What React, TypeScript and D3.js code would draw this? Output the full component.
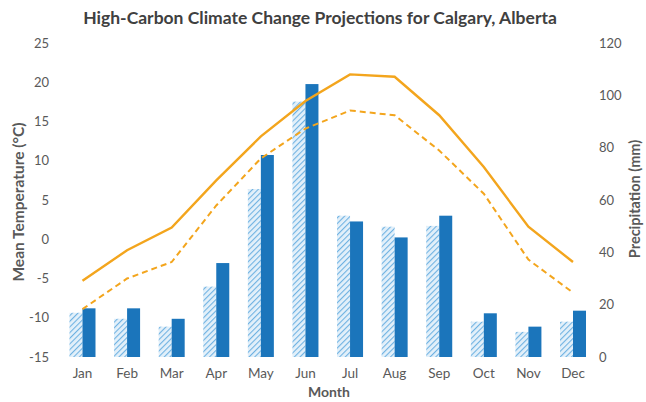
import React from "react";
import * as d3 from "d3";

const months = ["Jan", "Feb", "Mar", "Apr", "May", "Jun", "Jul", "Aug", "Sep", "Oct", "Nov", "Dec"];
const precipHistorical = [16.9, 14.6, 11.6, 26.9, 64.2, 97.6, 54.0, 49.8, 50.1, 13.5, 9.6, 13.5];
const precipProjected = [18.6, 18.6, 14.6, 35.9, 77.2, 104.3, 51.8, 45.7, 54.0, 16.7, 11.6, 17.7];
const tempProjected = [-5.3, -1.4, 1.5, 7.5, 13.1, 17.6, 21.0, 20.7, 15.8, 9.2, 1.6, -2.9];
const tempHistorical = [-8.9, -5.0, -2.9, 4.3, 10.3, 14.1, 16.4, 15.8, 11.3, 5.8, -2.6, -6.8];
const tempTicks = [-15, -10, -5, 0, 5, 10, 15, 20, 25];
const precipTicks = [0, 20, 40, 60, 80, 100, 120];

const W = 646;
const H = 402;
const FONT = "Lato, 'Open Sans', sans-serif";
const TEXT = "#595959";
const BLUE = "#1b75bb";
const ORANGE = "#f3a51d";

export default function App() {
  const x = d3.scaleBand<string>().domain(months).range([60.2, 595.3]).padding(0);
  const yT = d3.scaleLinear().domain([-15, 25]).range([357, 43]);
  const yP = d3.scaleLinear().domain([0, 120]).range([357, 43]);
  const cx = (m: string) => (x(m) as number) + x.bandwidth() / 2;
  const bw = 13;

  const line = d3
    .line<number>()
    .x((_, i) => cx(months[i]))
    .y((d) => yT(d));

  return (
    <svg
      width={W}
      height={H}
      style={{ position: "absolute", left: 0, top: 0, background: "#fff" }}
      fontFamily={FONT}
    >
      <defs>
        <pattern id="hatch" patternUnits="userSpaceOnUse" width="4" height="4" patternTransform="rotate(45)">
          <rect width="4" height="4" fill="#e3f0fa" />
          <line x1="0" y1="0" x2="0" y2="4" stroke="#6fb2e2" strokeWidth="2.2" />
        </pattern>
      </defs>
      <rect width={W} height={H} fill="#fff" />
      <text x={320} y={24} textAnchor="middle" fontSize={17.5} fontWeight={700} fill="#404040">
        High-Carbon Climate Change Projections for Calgary, Alberta
      </text>

      {months.map((m, i) => (
        <g key={m}>
          <rect
            x={cx(m) - bw}
            y={yP(precipHistorical[i])}
            width={bw}
            height={yP(0) - yP(precipHistorical[i])}
            fill="url(#hatch)"
          />
          <rect
            x={cx(m)}
            y={yP(precipProjected[i])}
            width={bw}
            height={yP(0) - yP(precipProjected[i])}
            fill={BLUE}
          />
        </g>
      ))}

      <path d={line(tempHistorical) || ""} fill="none" stroke={ORANGE} strokeWidth={2} strokeDasharray="6,4" />
      <path d={line(tempProjected) || ""} fill="none" stroke={ORANGE} strokeWidth={2.4} />

      {tempTicks.map((t) => (
        <text key={t} x={49} y={yT(t)} dy="0.35em" textAnchor="end" fontSize={13} fill={TEXT}>
          {t}
        </text>
      ))}
      {precipTicks.map((t) => (
        <text key={t} x={599} y={yP(t)} dy="0.35em" textAnchor="start" fontSize={13} fill={TEXT}>
          {t}
        </text>
      ))}
      {months.map((m) => (
        <text key={m} x={cx(m)} y={378} textAnchor="middle" fontSize={13.5} fill={TEXT}>
          {m}
        </text>
      ))}

      <text
        transform={`translate(24,202) rotate(-90)`}
        textAnchor="middle"
        fontSize={15.5}
        fontWeight={700}
        fill={TEXT}
      >
        Mean Temperature (°C)
      </text>
      <text
        transform={`translate(635,199) rotate(-90)`}
        textAnchor="middle"
        dy="0.35em"
        fontSize={14.5}
        fontWeight={700}
        fill={TEXT}
      >
        Precipitation (mm)
      </text>
      <text x={329} y={397} textAnchor="middle" fontSize={14} fontWeight={700} fill={TEXT}>
        Month
      </text>
    </svg>
  );
}
